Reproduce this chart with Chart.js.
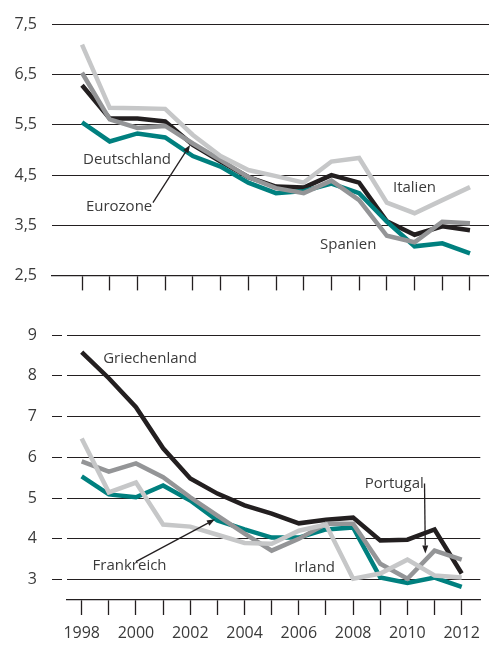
<!DOCTYPE html>
<html>
<head>
<meta charset="utf-8">
<script src="https://cdn.jsdelivr.net/npm/chart.js@4"></script>
<style>
  html, body { margin: 0; padding: 0; background: #fff; }
  .panel { position: absolute; left: 0; width: 489px; }
  #top { top: 0; height: 300px; }
  #bottom { top: 300px; height: 345px; }
</style>
</head>
<body>
<div class="panel" id="top"><canvas id="chartTop"></canvas></div>
<div class="panel" id="bottom"><canvas id="chartBottom"></canvas></div>
<script>
const years = [1998, 1999, 2000, 2001, 2002, 2003, 2004, 2005, 2006, 2007, 2008, 2009, 2010, 2011, 2012]
const topYTicks = [2.5, 3.5, 4.5, 5.5, 6.5, 7.5]
const bottomYTicks = [3, 4, 5, 6, 7, 8, 9]

// oben
const italien     = [7.10, 5.84, 5.83, 5.82, 5.30, 4.88, 4.60, 4.48, 4.35, 4.77, 4.84, 3.95, 3.74, 4.00, 4.26]
const spanien     = [6.54, 5.61, 5.44, 5.48, 5.13, 4.80, 4.46, 4.24, 4.14, 4.39, 4.00, 3.29, 3.16, 3.57, 3.54]
const deutschland = [5.55, 5.17, 5.33, 5.25, 4.88, 4.67, 4.35, 4.14, 4.18, 4.33, 4.14, 3.57, 3.08, 3.14, 2.94]
const eurozone    = [6.29, 5.63, 5.63, 5.57, 5.10, 4.77, 4.46, 4.27, 4.25, 4.50, 4.35, 3.58, 3.31, 3.48, 3.40]

// unten
const irland       = [6.46, 5.14, 5.38, 4.35, 4.30, 4.10, 3.90, 3.88, 4.20, 4.35, 3.02, 3.15, 3.49, 3.10, 3.05]
const portugal     = [5.90, 5.65, 5.85, 5.51, 5.02, 4.57, 4.13, 3.71, 4.00, 4.37, 4.37, 3.39, 3.02, 3.71, 3.49]
const frankreich   = [5.53, 5.09, 5.02, 5.31, 4.94, 4.45, 4.23, 4.03, 4.03, 4.23, 4.28, 3.05, 2.92, 3.05, 2.82]
const griechenland = [8.58, 7.94, 7.23, 6.22, 5.48, 5.11, 4.82, 4.62, 4.38, 4.47, 4.52, 3.96, 3.98, 4.23, 3.15]

const LIGHT = '#c6c7c8'
const MID = '#949597'
const TEAL = '#00807f'
const BLACK = '#231f20'
const TEXT = '#3a3a3a'
const FONT = '"Open Sans", sans-serif'

const topNotes = [
    { text: 'Deutschland', x: 1998.04, y: 4.80 },
    { text: 'Eurozone', x: 1998.14, y: 3.86 },
    { text: 'Italien', x: 2009.22, y: 4.25 },
    { text: 'Spanien', x: 2006.59, y: 3.12 }
]
const topArrows = [
    { from: [2000.56, 3.95], to: [2001.9, 5.10] }
]
const bottomNotes = [
    { text: 'Griechenland', x: 1998.79, y: 8.43 },
    { text: 'Frankreich', x: 1998.4, y: 3.34 },
    { text: 'Irland', x: 2005.83, y: 3.30 },
    { text: 'Portugal', x: 2008.43, y: 5.34 }
]
const bottomArrows = [
    { from: [2000.0, 3.44], to: [2002.91, 4.48] },
    { from: [2010.63, 5.36], to: [2010.66, 3.64] }
]

function series(values, color) {
    return {
        data: years.map((y, i) => ({ x: y, y: values[i] })),
        borderColor: color,
        borderWidth: 4.5,
        pointRadius: 0,
        tension: 0,
        borderCapStyle: 'butt',
        borderJoinStyle: 'miter',
        fill: false
    }
}

const notesPlugin = {
    id: 'notes',
    afterDatasetsDraw(chart, args, opts) {
        const ctx = chart.ctx
        const xs = chart.scales.x, ys = chart.scales.y
        ctx.save()
        ctx.font = '15px ' + FONT
        ctx.fillStyle = TEXT
        ctx.textAlign = 'left'
        ctx.textBaseline = 'middle'
        opts.notes.forEach(n => {
            ctx.fillText(n.text, xs.getPixelForValue(n.x), ys.getPixelForValue(n.y))
        })
        ctx.strokeStyle = BLACK
        ctx.fillStyle = BLACK
        ctx.lineWidth = 1.3
        opts.arrows.forEach(a => {
            const x1 = xs.getPixelForValue(a.from[0]), y1 = ys.getPixelForValue(a.from[1])
            const x2 = xs.getPixelForValue(a.to[0]), y2 = ys.getPixelForValue(a.to[1])
            const ang = Math.atan2(y2 - y1, x2 - x1)
            const hl = 8, hw = 3
            const bx = x2 - hl * Math.cos(ang), by = y2 - hl * Math.sin(ang)
            ctx.beginPath()
            ctx.moveTo(x1, y1)
            ctx.lineTo(bx, by)
            ctx.stroke()
            ctx.beginPath()
            ctx.moveTo(x2, y2)
            ctx.lineTo(bx + hw * Math.sin(ang), by - hw * Math.cos(ang))
            ctx.lineTo(bx - hw * Math.sin(ang), by + hw * Math.cos(ang))
            ctx.closePath()
            ctx.fill()
        })
        ctx.restore()
    }
}

function makeChart(id, cfg) {
    return new Chart(document.getElementById(id), {
        type: 'line',
        data: { datasets: cfg.datasets },
        plugins: [notesPlugin],
        options: {
            responsive: true,
            maintainAspectRatio: false,
            animation: false,
            layout: { padding: { top: cfg.padTop, right: 0, bottom: 0, left: 0 } },
            plugins: {
                legend: { display: false },
                tooltip: { enabled: false },
                notes: { notes: cfg.notes, arrows: cfg.arrows }
            },
            scales: {
                x: {
                    type: 'linear',
                    min: cfg.xMin,
                    max: 2012.686,
                    afterBuildTicks: scale => { scale.ticks = years.map(v => ({ value: v })) },
                    afterFit: scale => { scale.height = cfg.xHeight },
                    ticks: {
                        autoSkip: false,
                        maxRotation: 0,
                        padding: 9,
                        color: TEXT,
                        font: { family: FONT, size: 16 },
                        callback: v => (cfg.yearLabels && v % 2 === 0) ? String(v) : ''
                    },
                    grid: {
                        drawOnChartArea: false,
                        drawTicks: true,
                        tickLength: 15,
                        tickColor: BLACK,
                        tickWidth: 1.3
                    },
                    border: { display: true, color: BLACK, width: 1.3 }
                },
                y: {
                    min: cfg.yMin,
                    max: cfg.yMax,
                    afterBuildTicks: scale => { scale.ticks = cfg.yTicks.map(v => ({ value: v })) },
                    afterFit: scale => { scale.width = cfg.yWidth },
                    ticks: {
                        padding: 15,
                        color: TEXT,
                        font: { family: FONT, size: 16 },
                        callback: v => cfg.decimals ? v.toFixed(1).replace('.', ',') : String(v)
                    },
                    grid: {
                        color: BLACK,
                        lineWidth: 1,
                        borderDash: [10, 6],
                        drawTicks: cfg.yTickLen > 0,
                        tickLength: cfg.yTickLen,
                        tickColor: BLACK,
                        tickWidth: 1,
                        tickBorderDash: [10, 6]
                    },
                    border: { display: false }
                }
            }
        }
    })
}

makeChart('chartTop', {
    datasets: [series(italien, LIGHT), series(spanien, MID), series(deutschland, TEAL), series(eurozone, BLACK)],
    notes: topNotes,
    arrows: topArrows,
    padTop: 15,
    xMin: 1996.917,
    xHeight: 20,
    yearLabels: false,
    yMin: 2.5,
    yMax: 7.5,
    yTicks: topYTicks,
    yWidth: 52,
    yTickLen: 0,
    decimals: true
})

makeChart('chartBottom', {
    datasets: [series(irland, LIGHT), series(portugal, MID), series(frankreich, TEAL), series(griechenland, BLACK)],
    notes: bottomNotes,
    arrows: bottomArrows,
    padTop: 35,
    xMin: 1997.459,
    xHeight: 45,
    yearLabels: true,
    yMin: 2.5,
    yMax: 9,
    yTicks: bottomYTicks,
    yWidth: 67,
    yTickLen: 15,
    decimals: false
})
</script>
</body>
</html>
